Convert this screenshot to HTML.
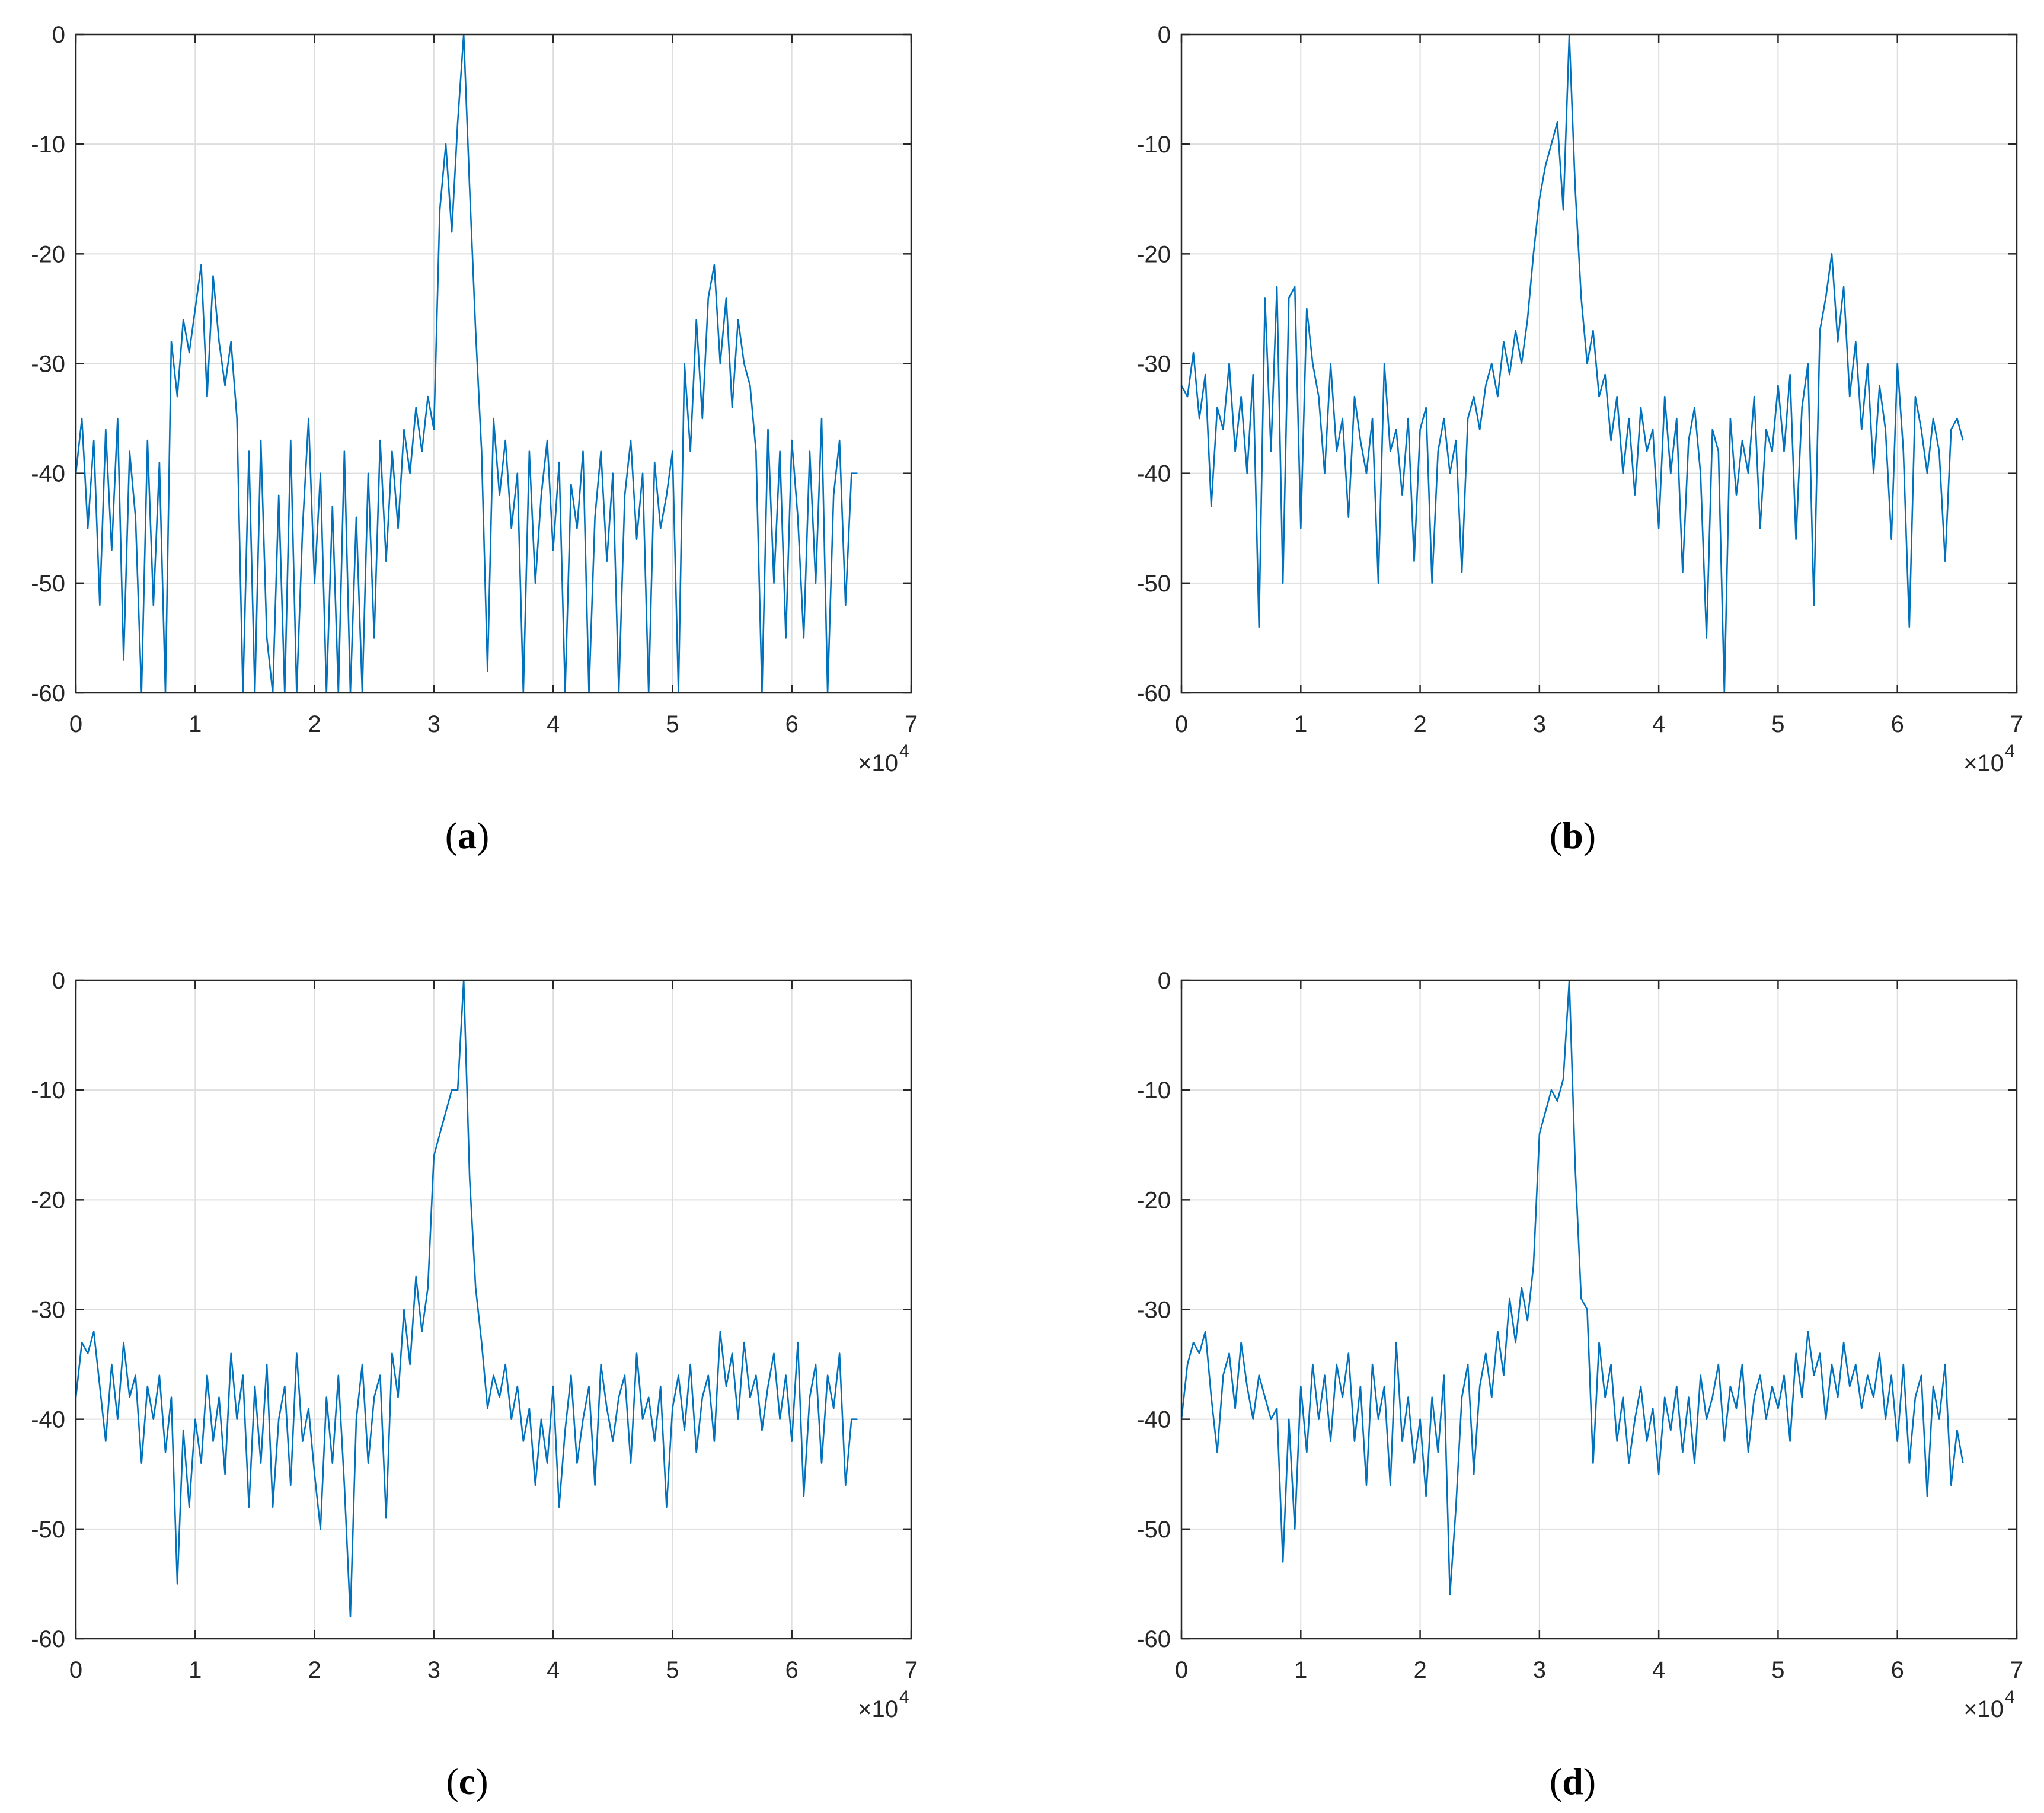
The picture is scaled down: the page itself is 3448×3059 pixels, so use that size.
<!DOCTYPE html>
<html><head><meta charset="utf-8"><style>
html,body{margin:0;padding:0;background:#fff;}
svg{display:block;}
</style></head><body>
<svg id="fig" width="3448" height="3059" viewBox="0 0 3448 3059" xmlns="http://www.w3.org/2000/svg"></svg>
<script>
const xTicks=[0,1,2,3,4,5,6,7];
const yTicks=[0,-10,-20,-30,-40,-50,-60];
const xStep=500;
const seriesA=[-40,-35,-45,-37,-52,-36,-47,-35,-57,-38,-44,-60,-37,-52,-39,-60,
-28,-33,-26,-29,-25,-21,-33,-22,-28,-32,-28,
-35,-60,-38,-60,-37,-55,-60,-42,-60,-37,-60,-45,-35,-50,-40,-60,-43,-60,-38,-60,-44,-60,-40,-55,-37,-48,-38,-45,-36,-40,
-34,-38,-33,-36,
-16,-10,-18,-8,0,-14,-27,
-38,-58,-35,-42,-37,-45,-40,-60,-38,-50,-42,-37,-47,-39,-60,-41,-45,-38,-60,-44,-38,-48,-40,-60,-42,-37,-46,-40,-60,-39,-45,-42,-38,
-60,-30,-38,-26,-35,-24,-21,-30,-24,-34,-26,-30,-32,-38,-60,
-36,-50,-38,-55,-37,-44,-55,-38,-50,-35,-60,-42,-37,-52,-40,-40];
const seriesB=[-32,-33,-29,-35,-31,-43,-34,-36,-30,-38,-33,-40,-31,-54,-24,-38,
-23,-50,-24,-23,-45,-25,-30,-33,-40,-30,-38,
-35,-44,-33,-37,-40,-35,-50,-30,-38,-36,-42,-35,-48,-36,-34,-50,-38,-35,-40,-37,-49,-35,-33,-36,-32,-30,-33,-28,-31,-27,
-30,-26,-20,-15,
-12,-10,-8,-16,0,-14,-24,
-30,-27,-33,-31,-37,-33,-40,-35,-42,-34,-38,-36,-45,-33,-40,-35,-49,-37,-34,-40,-55,-36,-38,-60,-35,-42,-37,-40,-33,-45,-36,-38,-32,
-38,-31,-46,-34,-30,-52,-27,-24,-20,-28,-23,-33,-28,-36,-30,
-40,-32,-36,-46,-30,-38,-54,-33,-36,-40,-35,-38,-48,-36,-35,-37];
const seriesC=[-38,-33,-34,-32,-37,-42,-35,-40,-33,-38,-36,-44,-37,-40,-36,-43,
-38,-55,-41,-48,-40,-44,-36,-42,-38,-45,-34,
-40,-36,-48,-37,-44,-35,-48,-40,-37,-46,-34,-42,-39,-45,-50,-38,-44,-36,-46,-58,-40,-35,-44,-38,-36,-49,-34,-38,-30,-35,
-27,-32,-28,-16,
-14,-12,-10,-10,0,-18,-28,
-33,-39,-36,-38,-35,-40,-37,-42,-39,-46,-40,-44,-37,-48,-41,-36,-44,-40,-37,-46,-35,-39,-42,-38,-36,-44,-34,-40,-38,-42,-37,-48,-39,
-36,-41,-35,-43,-38,-36,-42,-32,-37,-34,-40,-33,-38,-36,-41,
-37,-34,-40,-36,-42,-33,-47,-38,-35,-44,-36,-39,-34,-46,-40,-40];
const seriesD=[-40,-35,-33,-34,-32,-38,-43,-36,-34,-39,-33,-37,-40,-36,-38,-40,
-39,-53,-40,-50,-37,-43,-35,-40,-36,-42,-35,
-38,-34,-42,-37,-46,-35,-40,-37,-46,-33,-42,-38,-44,-40,-47,-38,-43,-36,-56,-48,-38,-35,-45,-37,-34,-38,-32,-36,-29,-33,
-28,-31,-26,-14,
-12,-10,-11,-9,0,-17,-29,
-30,-44,-33,-38,-35,-42,-38,-44,-40,-37,-42,-39,-45,-38,-41,-37,-43,-38,-44,-36,-40,-38,-35,-42,-37,-39,-35,-43,-38,-36,-40,-37,-39,
-36,-42,-34,-38,-32,-36,-34,-40,-35,-38,-33,-37,-35,-39,-36,
-38,-34,-40,-36,-42,-35,-44,-38,-36,-47,-37,-40,-35,-46,-41,-44];
const captions=['a','b','c','d'];

const NS='http://www.w3.org/2000/svg';
const svg=document.getElementById('fig');
function mk(tag,attrs,parent){const e=document.createElementNS(NS,tag);for(const k in attrs)e.setAttribute(k,attrs[k]);(parent||svg).appendChild(e);return e;}
const panels=[{x:128,y:58,s:seriesA},{x:1993,y:58,s:seriesB},{x:128,y:1654,s:seriesC},{x:1993,y:1654,s:seriesD}];
const W=1409,H=1111;
panels.forEach((p,pi)=>{
  const g=mk('g',{});
  
  
  const sx=v=>p.x+(v/7e4)*W;
  const sy=v=>p.y+(0-v)/60*H;
  mk('rect',{x:p.x,y:p.y,width:W,height:H,fill:'#fff'},g);
  xTicks.forEach(t=>{const X=sx(t*1e4);
    if(t>0&&t<7){const gl=mk('line',{x1:X,y1:p.y,x2:X,y2:p.y+H,stroke:'#dedede','stroke-width':2},g);
      }
    mk('line',{x1:X,y1:p.y+H,x2:X,y2:p.y+H-14,stroke:'#262626','stroke-width':2.5},g);
    mk('line',{x1:X,y1:p.y,x2:X,y2:p.y+14,stroke:'#262626','stroke-width':2.5},g);
    const tx=mk('text',{x:X,y:p.y+H+66,'text-anchor':'middle','font-family':'Liberation Sans, sans-serif','font-size':40,fill:'#262626'},g);
    tx.textContent=t;
  });
  yTicks.forEach(t=>{const Y=sy(t);
    if(t<0&&t>-60){const gl=mk('line',{x1:p.x,y1:Y,x2:p.x+W,y2:Y,stroke:'#dedede','stroke-width':2},g);
      }
    mk('line',{x1:p.x,y1:Y,x2:p.x+14,y2:Y,stroke:'#262626','stroke-width':2.5},g);
    mk('line',{x1:p.x+W,y1:Y,x2:p.x+W-14,y2:Y,stroke:'#262626','stroke-width':2.5},g);
    const ty=mk('text',{x:p.x-18,y:Y+14,'text-anchor':'end','font-family':'Liberation Sans, sans-serif','font-size':40,fill:'#262626'},g);
    ty.textContent=t;
  });
  const cid='clip'+pi;
  const cp=mk('clipPath',{id:cid},g);mk('rect',{x:p.x,y:p.y,width:W,height:H},cp);
  const pts=p.s.map((v,i)=>sx(i*xStep).toFixed(1)+','+sy(v).toFixed(1)).join(' ');
  const line=mk('polyline',{points:pts,fill:'none',stroke:'#0072BD','stroke-width':2.6,'stroke-linejoin':'round','clip-path':'url(#'+cid+')'},g);
  
  const fr=mk('rect',{x:p.x,y:p.y,width:W,height:H,fill:'none',stroke:'#262626','stroke-width':2.5},g);
  
  const ex=mk('text',{x:p.x+W-22,y:p.y+H+132,'text-anchor':'end','font-family':'Liberation Sans, sans-serif','font-size':40,fill:'#262626'},g);
  ex.textContent='×10';
  const ex2=mk('text',{x:p.x+W-20,y:p.y+H+108,'text-anchor':'start','font-family':'Liberation Sans, sans-serif','font-size':30,fill:'#262626'},g);
  ex2.textContent='4';
  const cap=mk('text',{x:p.x+660,y:p.y+H+262,'text-anchor':'middle','font-family':'Liberation Serif, serif','font-size':64,fill:'#000'},g);
  cap.innerHTML='(<tspan font-weight="bold">'+captions[pi]+'</tspan>)';
  
});
</script>
</body></html>
